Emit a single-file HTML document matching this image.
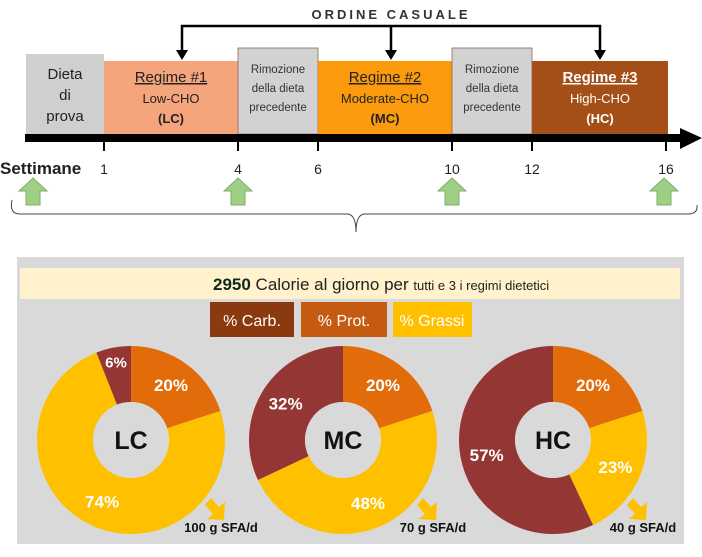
<!DOCTYPE html>
<html><head><meta charset="utf-8"><style>
body{margin:0;width:702px;height:557px;background:#fff;overflow:hidden;font-family:"Liberation Sans",sans-serif}
svg{display:block}
</style></head><body>
<svg width="702" height="557" viewBox="0 0 702 557">
<defs>
<marker id="ah" markerWidth="8" markerHeight="8" refX="4" refY="4" orient="auto" markerUnits="userSpaceOnUse"><path d="M0,0 L8,4 L0,8 Z" fill="#000"/></marker>
</defs>
<g>
<text x="391" y="19" text-anchor="middle" font-size="13" font-weight="bold" letter-spacing="3" fill="#333">ORDINE CASUALE</text>
<path d="M182,58 V26 H600 V58 M391,26 V58" fill="none" stroke="#000" stroke-width="2.5"/>
<path d="M176,50 L182,60 L188,50 Z M385,50 L391,60 L397,50 Z M594,50 L600,60 L606,50 Z" fill="#000"/>
</g>
<g>
<rect x="26" y="54" width="78" height="80" fill="#cfcfcf"/>
<text font-size="15" fill="#222" text-anchor="middle"><tspan x="65" y="79">Dieta</tspan><tspan x="65" y="100">di</tspan><tspan x="65" y="121">prova</tspan></text>
<rect x="104" y="61" width="134" height="73" fill="#f4a57b"/>
<text x="171" y="82" text-anchor="middle" font-size="15" fill="#222" text-decoration="underline">Regime #1</text>
<text x="171" y="103" text-anchor="middle" font-size="13" fill="#222">Low-CHO</text>
<text x="171" y="123" text-anchor="middle" font-size="13" font-weight="bold" fill="#222">(LC)</text>
<rect x="238" y="48" width="80" height="86" fill="#d2d2d2" stroke="#8a6a50" stroke-width="0.8"/>
<text font-size="11.5" fill="#333" text-anchor="middle"><tspan x="278" y="73">Rimozione</tspan><tspan x="278" y="92">della dieta</tspan><tspan x="278" y="111">precedente</tspan></text>
<rect x="318" y="61" width="134" height="73" fill="#fb9a0c"/>
<text x="385" y="82" text-anchor="middle" font-size="15" fill="#222" text-decoration="underline">Regime #2</text>
<text x="385" y="103" text-anchor="middle" font-size="13" fill="#222">Moderate-CHO</text>
<text x="385" y="123" text-anchor="middle" font-size="13" font-weight="bold" fill="#222">(MC)</text>
<rect x="452" y="48" width="80" height="86" fill="#d2d2d2" stroke="#8a6a50" stroke-width="0.8"/>
<text font-size="11.5" fill="#333" text-anchor="middle"><tspan x="492" y="73">Rimozione</tspan><tspan x="492" y="92">della dieta</tspan><tspan x="492" y="111">precedente</tspan></text>
<rect x="532" y="61" width="136" height="73" fill="#a44f17"/>
<text x="600" y="82" text-anchor="middle" font-size="15" font-weight="bold" fill="#fff" text-decoration="underline">Regime #3</text>
<text x="600" y="103" text-anchor="middle" font-size="13" fill="#fff">High-CHO</text>
<text x="600" y="123" text-anchor="middle" font-size="13" font-weight="bold" fill="#fff">(HC)</text>
</g>
<g>
<rect x="25" y="134" width="660" height="8" fill="#000"/>
<path d="M680,128 L702,138 L680,149 Z" fill="#000"/>
<g stroke="#000" stroke-width="2">
<line x1="104" y1="140" x2="104" y2="151"/><line x1="238" y1="140" x2="238" y2="151"/><line x1="318" y1="140" x2="318" y2="151"/><line x1="452" y1="140" x2="452" y2="151"/><line x1="532" y1="140" x2="532" y2="151"/><line x1="666" y1="140" x2="666" y2="151"/>
</g>
<text x="0" y="174" font-size="17" font-weight="bold" fill="#222">Settimane</text>
<g font-size="14" fill="#222" text-anchor="middle">
<text x="104" y="174">1</text><text x="238" y="174">4</text><text x="318" y="174">6</text><text x="452" y="174">10</text><text x="532" y="174">12</text><text x="666" y="174">16</text>
</g>
</g>
<g fill="#9fcf85" stroke="#7fae66" stroke-width="1">
<path d="M33,178 L47,191 L40,191 L40,205 L26,205 L26,191 L19,191 Z"/>
<path d="M238,178 L252,191 L245,191 L245,205 L231,205 L231,191 L224,191 Z"/>
<path d="M452,178 L466,191 L459,191 L459,205 L445,205 L445,191 L438,191 Z"/>
<path d="M664,178 L678,191 L671,191 L671,205 L657,205 L657,191 L650,191 Z"/>
</g>
<path d="M12,200 Q9,214 20,214 H347 Q356,214 356,232 Q356,214 365,214 H688 Q698,214 697,205" fill="none" stroke="#444" stroke-width="1"/>
<rect x="17" y="257" width="667" height="287" fill="#d9d9d9"/>
<rect x="20" y="268" width="660" height="31" fill="#fff2cc"/>
<text x="213" y="290" font-size="17" fill="#222"><tspan font-weight="bold" fill="#0d2a1a">2950</tspan>  Calorie al giorno per <tspan font-size="13">tutti e 3 i regimi dietetici</tspan></text>
<g>
<rect x="210" y="302" width="84" height="35" fill="#8b3a10"/>
<text x="252" y="326" text-anchor="middle" font-size="16" fill="#fff">% Carb.</text>
<rect x="301" y="302" width="86" height="35" fill="#c55a11"/>
<text x="344" y="326" text-anchor="middle" font-size="16" fill="#fff">%  Prot.</text>
<rect x="393" y="302" width="79" height="35" fill="#ffc000"/>
<text x="432" y="326" text-anchor="middle" font-size="16" fill="#fff">% Grassi</text>
</g>
<g id="donuts"></g>
</svg>
<script>
const diets = ["LC","MC","HC"];
const protVals = [20,20,20];
const fatVals = [74,48,23];
const carbVals = [6,32,57];
const sfaLabels = ["100 g SFA/d","70 g SFA/d","40 g SFA/d"];
const cxs=[131,343,553], cy=440, R=94, r=38;
const colProt="#e36c0a", colFat="#ffc000", colCarb="#943634";
const NS="http://www.w3.org/2000/svg";
const g=document.getElementById('donuts');
function pt(a,rad,cx){return [cx+rad*Math.sin(a), cy-rad*Math.cos(a)];}
function arc(cx,a0,a1){
  const L=(a1-a0)>Math.PI?1:0;
  const p0=pt(a0,R,cx),p1=pt(a1,R,cx),q1=pt(a1,r,cx),q0=pt(a0,r,cx);
  return `M${p0} A${R},${R} 0 ${L} 1 ${p1} L${q1} A${r},${r} 0 ${L} 0 ${q0} Z`;
}
diets.forEach((d,i)=>{
  const cx=cxs[i];
  const segs=[[protVals[i],colProt,'protein'],[fatVals[i],colFat,'fat'],[carbVals[i],colCarb,'carb']];
  const tot=protVals[i]+fatVals[i]+carbVals[i];
  let a=0;
  segs.forEach(([v,c,n])=>{
    const a1=a+v/tot*2*Math.PI;
    const p=document.createElementNS(NS,'path');
    p.setAttribute('d',arc(cx,a,a1));p.setAttribute('fill',c);
    
    
    g.appendChild(p);
    const mid=(a+a1)/2, lr = v<10 ? 80 : 68;
    const lp=pt(mid,lr,cx);
    const t=document.createElementNS(NS,'text');
    t.setAttribute('x',lp[0]);t.setAttribute('y',lp[1]+6);
    t.setAttribute('text-anchor','middle');t.setAttribute('font-size',v<10?'15':'17');
    t.setAttribute('font-weight','bold');t.setAttribute('fill','#fff');
    t.textContent=v+'%';
    
    
    g.appendChild(t);
    a=a1;
  });
  const c=document.createElementNS(NS,'circle');
  c.setAttribute('cx',cx);c.setAttribute('cy',cy);c.setAttribute('r',r);c.setAttribute('fill','#d9d9d9');
  
  
  g.appendChild(c);
  const t=document.createElementNS(NS,'text');
  t.setAttribute('x',cx);t.setAttribute('y',cy+9);t.setAttribute('text-anchor','middle');
  t.setAttribute('font-size','25');t.setAttribute('font-weight','bold');t.setAttribute('fill','#111');
  t.textContent=d;
  
  
  g.appendChild(t);
  const ar=document.createElementNS(NS,'path');
  const ax=cx+80, ay=cy+58;
  ar.setAttribute('d',`M${ax},${ay} L${ax+8},${ay+9} L${ax+14},${ay+4} L${ax+13},${ay+22} L${ax-4},${ay+21} L${ax+2},${ay+16} L${ax-6},${ay+7} Z`);
  ar.setAttribute('fill','#ffc000');
  
  
  g.appendChild(ar);
  const s=document.createElementNS(NS,'text');
  s.setAttribute('x',cx+90);s.setAttribute('y',cy+92);s.setAttribute('text-anchor','middle');
  s.setAttribute('font-size','13');s.setAttribute('font-weight','bold');s.setAttribute('fill','#111');
  s.textContent=sfaLabels[i];
  
  
  g.appendChild(s);
});
</script>
</body></html>
